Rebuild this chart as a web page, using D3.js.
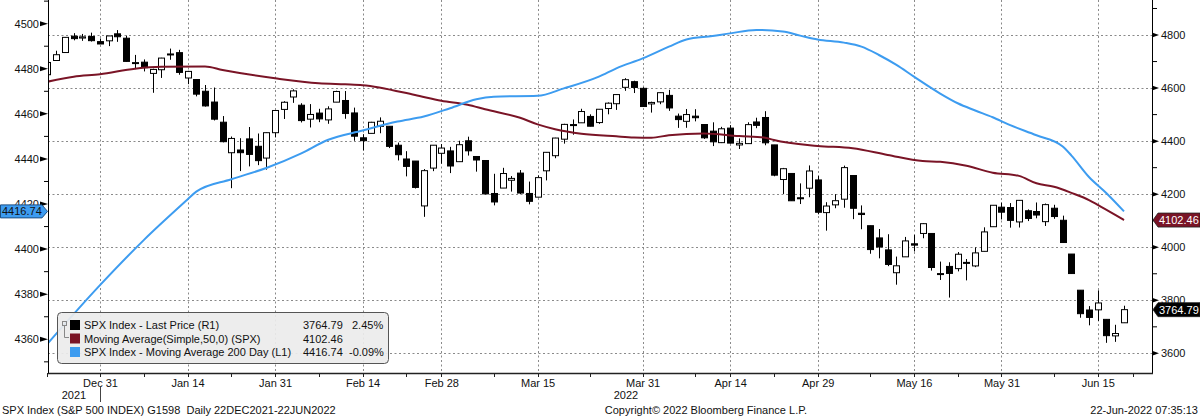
<!DOCTYPE html>
<html><head><meta charset="utf-8">
<script src="https://cdn.jsdelivr.net/npm/d3@7"></script>
<style>
html,body{margin:0;padding:0;background:#fff;}
svg{display:block;font-family:"Liberation Sans",Arial,sans-serif;}
</style></head><body>
<svg id="chart" width="1200" height="417"></svg>
<script>
// ---------- DATA ----------
const dates = ["2021-12-22","2021-12-23","2021-12-27","2021-12-28","2021-12-29","2021-12-30","2021-12-31",
"2022-01-03","2022-01-04","2022-01-05","2022-01-06","2022-01-07","2022-01-10","2022-01-11","2022-01-12","2022-01-13","2022-01-14",
"2022-01-18","2022-01-19","2022-01-20","2022-01-21","2022-01-24","2022-01-25","2022-01-26","2022-01-27","2022-01-28","2022-01-31",
"2022-02-01","2022-02-02","2022-02-03","2022-02-04","2022-02-07","2022-02-08","2022-02-09","2022-02-10","2022-02-11","2022-02-14",
"2022-02-15","2022-02-16","2022-02-17","2022-02-18","2022-02-22","2022-02-23","2022-02-24","2022-02-25","2022-02-28",
"2022-03-01","2022-03-02","2022-03-03","2022-03-04","2022-03-07","2022-03-08","2022-03-09","2022-03-10","2022-03-11","2022-03-14",
"2022-03-15","2022-03-16","2022-03-17","2022-03-18","2022-03-21","2022-03-22","2022-03-23","2022-03-24","2022-03-25","2022-03-28",
"2022-03-29","2022-03-30","2022-03-31","2022-04-01","2022-04-04","2022-04-05","2022-04-06","2022-04-07","2022-04-08","2022-04-11",
"2022-04-12","2022-04-13","2022-04-14","2022-04-18","2022-04-19","2022-04-20","2022-04-21","2022-04-22","2022-04-25","2022-04-26",
"2022-04-27","2022-04-28","2022-04-29","2022-05-02","2022-05-03","2022-05-04","2022-05-05","2022-05-06","2022-05-09","2022-05-10",
"2022-05-11","2022-05-12","2022-05-13","2022-05-16","2022-05-17","2022-05-18","2022-05-19","2022-05-20","2022-05-23","2022-05-24",
"2022-05-25","2022-05-26","2022-05-27","2022-05-31","2022-06-01","2022-06-02","2022-06-03","2022-06-06","2022-06-07","2022-06-08",
"2022-06-09","2022-06-10","2022-06-13","2022-06-14","2022-06-15","2022-06-16","2022-06-17","2022-06-21"];

const openP = [4650.36,4703.96,4733.99,4795.49,4788.64,4794.23,4775.21,
4778.14,4804.51,4787.99,4693.39,4697.66,4655.34,4669.14,4728.59,4733.56,4637.99,
4632.24,4588.03,4547.35,4471.38,4356.32,4366.64,4408.43,4380.58,4336.19,4431.79,
4519.57,4566.39,4535.41,4482.79,4505.75,4480.02,4547.00,4553.24,4506.27,4412.61,
4429.28,4455.75,4456.06,4384.57,4332.74,4324.93,4155.77,4298.38,4354.17,
4363.14,4322.56,4401.31,4342.12,4327.01,4202.66,4223.10,4252.55,4279.50,4202.75,
4188.82,4288.14,4345.11,4407.34,4462.40,4469.10,4493.10,4469.98,4522.91,4541.09,
4602.86,4624.20,4599.02,4540.32,4547.97,4572.45,4494.17,4474.65,4494.15,4462.64,
4437.59,4394.30,4449.12,4385.63,4390.63,4472.26,4489.17,4385.83,4255.34,4278.14,
4186.52,4222.58,4253.75,4130.61,4159.78,4181.18,4270.43,4128.17,4081.27,4035.18,
3990.08,3903.95,3963.90,4013.02,4052.00,4051.98,3899.00,3927.76,3919.42,3942.94,
3929.59,3984.60,4077.43,4151.09,4149.78,4095.41,4137.57,4134.72,4096.47,4147.12,
4101.65,3974.39,3838.15,3763.52,3764.05,3728.18,3665.90,3715.31];

const highP = [4697.67,4740.74,4791.49,4807.02,4804.06,4808.93,4786.83,
4796.64,4818.62,4797.70,4725.01,4707.95,4673.02,4714.13,4748.83,4744.13,4665.13,
4632.24,4611.55,4602.11,4494.52,4417.35,4411.01,4453.23,4428.74,4432.72,4516.89,
4550.49,4595.31,4542.88,4539.66,4521.86,4531.32,4590.03,4588.92,4526.33,4426.22,
4472.77,4489.55,4456.06,4394.60,4362.12,4324.93,4294.73,4385.34,4388.84,
4378.45,4401.48,4416.78,4342.12,4327.01,4276.94,4299.40,4268.28,4291.01,4247.57,
4271.05,4358.90,4412.67,4465.40,4481.75,4522.00,4501.07,4520.58,4546.03,4575.65,
4637.30,4627.77,4603.07,4548.70,4583.50,4593.45,4503.94,4521.16,4520.41,4464.35,
4471.00,4453.92,4460.46,4410.31,4471.03,4488.29,4512.94,4385.83,4299.02,4278.14,
4240.71,4308.45,4269.68,4169.81,4200.10,4307.66,4270.43,4157.69,4081.27,4068.82,
4049.09,3964.80,4038.88,4046.46,4090.72,4051.98,3945.96,3943.42,3981.88,3955.68,
3999.33,4075.14,4158.49,4168.34,4166.54,4177.51,4142.67,4168.78,4164.86,4160.14,
4119.10,3974.39,3838.15,3778.18,3837.56,3728.18,3707.71,3779.65];

const lowP = [4645.53,4703.96,4733.99,4780.04,4778.08,4775.33,4765.75,
4758.17,4774.27,4699.44,4671.26,4662.74,4582.24,4638.27,4706.71,4650.29,4614.75,
4568.70,4530.20,4477.95,4395.34,4222.62,4287.11,4304.80,4309.50,4292.46,4414.02,
4483.53,4544.32,4470.39,4451.50,4471.47,4465.40,4547.00,4484.31,4401.41,4364.84,
4429.28,4429.68,4373.81,4327.22,4267.11,4221.51,4114.65,4286.83,4315.12,
4279.54,4322.56,4345.56,4284.98,4199.85,4157.87,4223.10,4209.80,4200.49,4161.72,
4187.90,4251.99,4335.65,4390.57,4424.30,4469.10,4455.81,4465.17,4501.07,4517.69,
4589.66,4581.32,4530.41,4507.57,4539.21,4514.17,4450.04,4450.30,4474.60,4408.38,
4381.34,4392.70,4390.77,4370.30,4390.63,4448.76,4384.47,4267.62,4200.82,4175.04,
4162.90,4188.63,4124.28,4062.51,4147.08,4148.91,4106.01,4067.91,3975.48,3958.17,
3928.82,3858.87,3963.90,3983.99,4033.93,3911.91,3876.58,3810.32,3909.04,3875.13,
3925.03,3984.60,4077.43,4104.88,4073.85,4074.37,4098.67,4109.18,4080.19,4107.20,
4017.17,3900.16,3734.30,3705.68,3722.30,3639.77,3643.41,3715.31];

const closeP = [4696.56,4725.79,4791.19,4786.35,4793.06,4778.73,4766.18,
4796.56,4793.54,4700.58,4696.05,4677.03,4670.29,4713.07,4726.35,4659.03,4662.85,
4577.11,4532.76,4482.73,4397.94,4410.13,4356.45,4349.93,4326.51,4431.85,4515.55,
4546.54,4589.38,4477.44,4500.53,4483.87,4521.54,4587.18,4504.08,4418.64,4401.67,
4471.07,4475.01,4380.26,4348.87,4304.76,4225.50,4288.70,4384.65,4373.94,
4306.26,4386.54,4363.49,4328.87,4201.09,4170.70,4277.88,4259.52,4204.31,4173.11,
4262.45,4357.86,4411.67,4463.12,4461.18,4511.61,4456.24,4520.16,4543.06,4575.52,
4631.60,4602.45,4530.41,4545.86,4582.64,4525.12,4481.15,4500.21,4488.28,4412.53,
4397.45,4446.59,4392.59,4391.69,4462.21,4459.45,4393.66,4271.78,4296.12,4175.20,
4183.96,4287.50,4131.93,4155.38,4175.48,4300.17,4146.87,4123.34,3991.24,4001.05,
3935.18,3930.08,4023.89,4008.01,4088.85,3923.68,3900.79,3901.36,3973.75,3941.48,
3978.73,4057.84,4158.24,4132.15,4101.23,4176.82,4108.54,4121.43,4160.68,4115.77,
4017.82,3900.86,3749.63,3735.48,3789.99,3666.77,3674.84,3764.79];

// Moving averages at sample dates
const ma50Dates = ["2021-12-22","2021-12-28","2021-12-31","2022-01-06","2022-01-11","2022-01-19","2022-01-21","2022-01-31",
"2022-02-07","2022-02-10","2022-02-14","2022-02-23","2022-02-28","2022-03-03","2022-03-07","2022-03-11","2022-03-15","2022-03-17",
"2022-03-22","2022-03-28","2022-03-30","2022-04-01","2022-04-05","2022-04-11","2022-04-18","2022-04-21","2022-04-22","2022-04-29",
"2022-05-05","2022-05-11","2022-05-17","2022-05-19","2022-05-24","2022-05-27","2022-06-02","2022-06-06","2022-06-08","2022-06-10",
"2022-06-14","2022-06-15","2022-06-17","2022-06-21"];
const ma50Values = [4624,4643,4652,4673,4680,4681,4668,4637,
4618,4614,4611,4574,4552,4537,4520,4488,4463,4445,
4428,4418,4414,4413,4422,4429,4419,4413,4404,4382,
4373,4348,4325,4322,4307,4281,4269,4241,4228,4205,
4178,4160,4122,4102.46];

const ma200Dates = ["2021-12-22","2021-12-31","2022-01-07","2022-01-14","2022-01-18","2022-01-24","2022-01-28","2022-02-03",
"2022-02-08","2022-02-14","2022-02-18","2022-02-24","2022-03-01","2022-03-04","2022-03-08","2022-03-15","2022-03-18","2022-03-24",
"2022-03-28","2022-03-31","2022-04-05","2022-04-07","2022-04-12","2022-04-14","2022-04-20","2022-04-25","2022-04-27","2022-04-29",
"2022-05-04","2022-05-06","2022-05-10","2022-05-12","2022-05-16","2022-05-19","2022-05-23","2022-05-25","2022-05-27","2022-06-01",
"2022-06-06","2022-06-09","2022-06-10","2022-06-14","2022-06-16","2022-06-21"];
const ma200Values = [4358,4384,4404,4422,4425.5,4431,4436,4442.5,
4448.4,4452.6,4456.6,4458.8,4462.5,4466.5,4467.6,4468,4471.3,4476.5,
4480.2,4484.6,4489.8,4493,4494.5,4495.7,4497.2,4496.5,4494.7,4493,
4491.6,4489.8,4486.1,4481.7,4476.5,4469,4464.7,4461.5,4458.5,4455,
4450.5,4445.5,4441.5,4432,4424.8,4416.74];

// Axis ticks
const leftMajor = [4360,4380,4400,4420,4440,4460,4480,4500];
const leftMinor = [4350,4370,4390,4410,4430,4450,4470,4490,4510];
const rightMajor = [3600,3800,4000,4200,4400,4600,4800];
const rightMinor = [3700,3900,4100,4300,4500,4700,4900];
const xMajorDates = ["2021-12-31","2022-01-14","2022-01-31","2022-02-14","2022-02-28","2022-03-15","2022-03-31","2022-04-14","2022-04-29","2022-05-16","2022-05-31","2022-06-15"];
const xMajorLabels = ["Dec 31","Jan 14","Jan 31","Feb 14","Feb 28","Mar 15","Mar 31","Apr 14","Apr 29","May 16","May 31","Jun 15"];
const xMinorDates = ["2021-12-22","2022-01-07","2022-01-24","2022-02-07","2022-02-22","2022-03-08","2022-03-23","2022-04-08","2022-04-22","2022-05-09","2022-05-23","2022-06-08","2022-06-22"];
const yearLabels = ["2021","2022"];

const legendNames = ["SPX Index - Last Price (R1)","Moving Average(Simple,50,0) (SPX)","SPX Index - Moving Average 200 Day (L1)"];
const legendValues = ["3764.79","4102.46","4416.74"];
const legendChanges = ["2.45%","","-0.09%"];
const lastPrice = 3764.79, lastMa50 = 4102.46, lastMa200 = 4416.74;

// ---------- LAYOUT ----------
const FONT = "Liberation Sans, Arial, sans-serif";
const C_RED = "#7a1426", C_BLUE = "#3d9cf0";
const plot = {left:48, right:1152, top:0, bottom:373};
const svg = d3.select("#chart");
const axisDates = dates.concat(["2022-06-22"]);
const di = d => axisDates.indexOf(d);
const x = d3.scaleLinear().domain([0.06,126.2]).range([plot.left, plot.right]);
const yR = d3.scaleLinear().domain([3526,4932]).range([plot.bottom, plot.top]);
const yL = d3.scaleLinear().domain([4345.05,4510.5]).range([plot.bottom, plot.top]);
const fmtInt = d3.format("d");

svg.append("defs").append("clipPath").attr("id","clip")
  .append("rect").attr("x",plot.left+1).attr("y",plot.top)
  .attr("width",plot.right-plot.left-1).attr("height",plot.bottom-plot.top);

// gridlines
const grid = svg.append("g").attr("stroke","#8a8a8a").attr("stroke-width",1).attr("stroke-dasharray","2,2.5");
grid.selectAll("line.h").data(rightMajor).join("line")
  .attr("x1",plot.left).attr("x2",plot.right)
  .attr("y1",d=>Math.round(yR(d))+0.5).attr("y2",d=>Math.round(yR(d))+0.5);
grid.selectAll("line.v").data(xMajorDates).join("line")
  .attr("y1",plot.top).attr("y2",plot.bottom)
  .attr("x1",d=>Math.round(x(di(d)))+0.5).attr("x2",d=>Math.round(x(di(d)))+0.5);

// candles
const cg = svg.append("g").attr("clip-path","url(#clip)");
const idxs = d3.range(dates.length);
const bw = 6;
cg.selectAll("line.wick").data(idxs).join("line")
  .attr("x1",i=>Math.round(x(i))+0.5).attr("x2",i=>Math.round(x(i))+0.5)
  .attr("y1",i=>yR(highP[i])).attr("y2",i=>yR(lowP[i]))
  .attr("stroke","#000").attr("stroke-width",1);
cg.selectAll("rect.body").data(idxs).join("rect")
  .attr("x",i=>Math.round(x(i))-bw/2+0.5)
  .attr("width",bw)
  .attr("y",i=>yR(Math.max(openP[i],closeP[i])))
  .attr("height",i=>Math.max(1,Math.abs(yR(openP[i])-yR(closeP[i]))))
  .attr("fill",i=>closeP[i]>=openP[i]?"#fff":"#000")
  .attr("stroke","#000").attr("stroke-width",1);

// MA lines
const lineR = d3.line().x(d=>x(di(d[0]))).y(d=>yR(d[1])).curve(d3.curveMonotoneX);
const lineL = d3.line().x(d=>x(di(d[0]))).y(d=>yL(d[1])).curve(d3.curveMonotoneX);
cg.append("path").datum(d3.zip(ma50Dates,ma50Values)).attr("d",lineR)
  .attr("fill","none").attr("stroke",C_RED).attr("stroke-width",2);
cg.append("path").datum(d3.zip(ma200Dates,ma200Values)).attr("d",lineL)
  .attr("fill","none").attr("stroke",C_BLUE).attr("stroke-width",2);

// axes lines
svg.append("line").attr("x1",plot.left+0.5).attr("x2",plot.left+0.5).attr("y1",0).attr("y2",plot.bottom).attr("stroke","#000");
svg.append("line").attr("x1",plot.right+0.5).attr("x2",plot.right+0.5).attr("y1",0).attr("y2",plot.bottom).attr("stroke","#000");
svg.append("line").attr("x1",plot.left).attr("x2",plot.right+1).attr("y1",plot.bottom+0.5).attr("y2",plot.bottom+0.5).attr("stroke","#222").attr("stroke-width",1.5);

// left axis
const la = svg.append("g").attr("transform",`translate(${plot.left},0)`)
  .call(d3.axisLeft(yL).tickValues(leftMajor).tickFormat(fmtInt).tickSize(0).tickPadding(9));
la.select(".domain").remove();
la.selectAll("text").attr("font-size",11).attr("fill","#111").attr("font-family",FONT);
svg.append("g").selectAll("path").data(leftMajor).join("path")
  .attr("d",d=>{const y=yL(d);return `M${plot.left-8},${y-2.5}L${plot.left},${y}L${plot.left-8},${y+2.5}Z`;}).attr("fill","#000");
svg.append("g").selectAll("line").data(leftMinor).join("line")
  .attr("x1",plot.left-4).attr("x2",plot.left).attr("y1",d=>yL(d)).attr("y2",d=>yL(d)).attr("stroke","#000");

// right axis
const ra = svg.append("g").attr("transform",`translate(${plot.right},0)`)
  .call(d3.axisRight(yR).tickValues(rightMajor).tickFormat(fmtInt).tickSize(0).tickPadding(9));
ra.select(".domain").remove();
ra.selectAll("text").attr("font-size",11).attr("fill","#111").attr("font-family",FONT);
svg.append("g").selectAll("path").data(rightMajor).join("path")
  .attr("d",d=>{const y=yR(d);return `M${plot.right},${y-2.5}L${plot.right+7},${y}L${plot.right},${y+2.5}Z`;}).attr("fill","#000");
svg.append("g").selectAll("line").data(rightMinor).join("line")
  .attr("x1",plot.right).attr("x2",plot.right+5).attr("y1",d=>yR(d)).attr("y2",d=>yR(d)).attr("stroke","#000");

// bottom axis
const ba = svg.append("g").attr("transform",`translate(0,${plot.bottom})`)
  .call(d3.axisBottom(x).tickValues(xMajorDates.map(di)).tickFormat((d,i)=>xMajorLabels[i]).tickSize(0).tickPadding(6));
ba.select(".domain").remove();
ba.selectAll("text").attr("font-size",11).attr("fill","#111").attr("font-family",FONT);
svg.append("g").selectAll("line").data(xMajorDates.concat(xMinorDates)).join("line")
  .attr("x1",d=>Math.round(x(di(d)))+0.5).attr("x2",d=>Math.round(x(di(d)))+0.5)
  .attr("y1",plot.bottom).attr("y2",plot.bottom+4).attr("stroke","#222");

// year labels
const yearEnd = x(di("2021-12-31"));
const yearCenters = [(plot.left+yearEnd)/2, (yearEnd+plot.right)/2];
svg.append("g").selectAll("text").data(yearLabels).join("text")
  .attr("x",(d,i)=>yearCenters[i]).attr("y",399).attr("text-anchor","middle")
  .attr("font-size",11).attr("fill","#111").text(d=>d);
svg.append("line").attr("x1",Math.round(yearEnd)+0.5).attr("x2",Math.round(yearEnd)+0.5)
  .attr("y1",387).attr("y2",402).attr("stroke","#444");

// footer
svg.append("text").attr("x",2).attr("y",414).attr("font-size",11).attr("fill","#111")
  .style("white-space","pre").text("SPX Index (S&P 500 INDEX) G1598  Daily 22DEC2021-22JUN2022");
svg.append("text").attr("x",706).attr("y",414).attr("text-anchor","middle").attr("font-size",11).attr("fill","#111")
  .text("Copyright\u00A9 2022 Bloomberg Finance L.P.");
svg.append("text").attr("x",1198).attr("y",414).attr("text-anchor","end").attr("font-size",11).attr("fill","#111")
  .text("22-Jun-2022 07:35:13");

// value tags
function rightTag(v, fill, textFill){
  const y = yR(v);
  svg.append("path").attr("d",`M${plot.right+1},${y}L${plot.right+6},${y-7}L1200,${y-7}L1200,${y+7}L${plot.right+6},${y+7}Z`)
    .attr("fill",fill).attr("stroke","#222").attr("stroke-width",0.8);
  svg.append("text").attr("x",plot.right+7).attr("y",y+4).attr("font-size",11).attr("fill",textFill).text(d3.format(".2f")(v));
}
rightTag(lastMa50, C_RED, "#fff");
rightTag(lastPrice, "#000", "#fff");
{
  const y = yL(lastMa200);
  svg.append("path").attr("d",`M0.5,${y-6.5}L42,${y-6.5}L${plot.left-0.5},${y}L42,${y+6.5}L0.5,${y+6.5}Z`)
    .attr("fill",C_BLUE).attr("stroke","#1d4f82").attr("stroke-width",1);
  svg.append("text").attr("x",2).attr("y",y+4).attr("font-size",11).attr("fill","#111").text(d3.format(".2f")(lastMa200));
}

// legend
const lg = svg.append("g");
lg.append("rect").attr("x",57.5).attr("y",312.5).attr("width",331).attr("height",51).attr("rx",4)
  .attr("fill","#ebebeb").attr("fill-opacity",0.92).attr("stroke","#555").attr("stroke-width",1);
const rowY = [325,338.5,352];
const swatch = ["#000",C_RED,C_BLUE];
lg.append("rect").attr("x",62.5).attr("y",321.5).attr("width",4).attr("height",4).attr("fill","none").attr("stroke","#888");
lg.append("path").attr("d","M64.5,326V337.5H69").attr("fill","none").attr("stroke","#888");
lg.selectAll("rect.sw").data(legendNames).join("rect").attr("class","sw")
  .attr("x",70).attr("y",(d,i)=>rowY[i]-5).attr("width",10).attr("height",10).attr("fill",(d,i)=>swatch[i]);
lg.selectAll("text.nm").data(legendNames).join("text").attr("class","nm")
  .attr("x",84).attr("y",(d,i)=>rowY[i]+4).attr("font-size",11).attr("fill","#111").text(d=>d);
lg.selectAll("text.vl").data(legendValues).join("text").attr("class","vl")
  .attr("x",303).attr("y",(d,i)=>rowY[i]+4).attr("font-size",11).attr("fill","#111").text(d=>d);
lg.selectAll("text.ch").data(legendChanges).join("text").attr("class","ch")
  .attr("x",(d,i)=>i===2?349:352).attr("y",(d,i)=>rowY[i]+4).attr("font-size",11).attr("fill","#111").text(d=>d);
</script>
</body></html>
